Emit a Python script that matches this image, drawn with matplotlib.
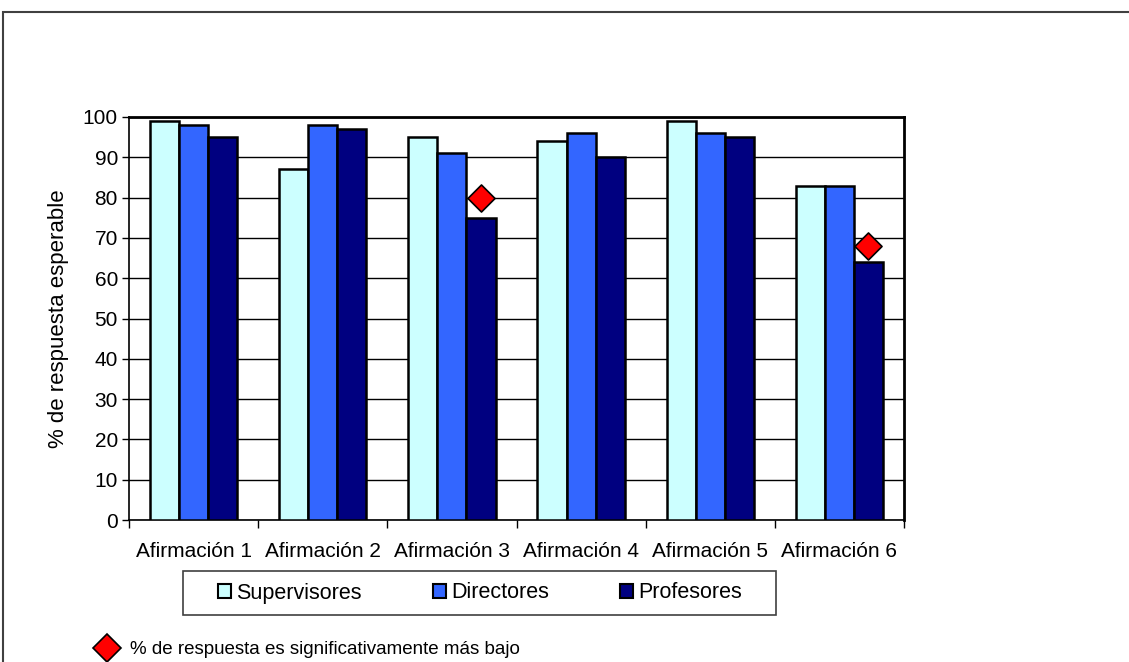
import matplotlib.pyplot as plt
import numpy as np
from matplotlib.patches import Rectangle
from matplotlib.lines import Line2D

plt.rcParams['font.family'] = ['Liberation Sans', 'DejaVu Sans']

categories = ['Afirmación 1', 'Afirmación 2', 'Afirmación 3',
              'Afirmación 4', 'Afirmación 5', 'Afirmación 6']
supervisores = [99, 87, 95, 94, 99, 83]
directores = [98, 98, 91, 96, 96, 83]
profesores = [95, 97, 75, 90, 95, 64]
# red diamonds over the groups where the teachers' share is lower
marca_idx = [2, 5]
marca_val = [80, 68]

series = [('Supervisores', supervisores, '#CCFFFF'),
          ('Directores', directores, '#3366FF'),
          ('Profesores', profesores, '#000080')]

W, H = 1129, 662
fig = plt.figure(figsize=(W / 100, H / 100), dpi=100)


def px_box(x0, y0, x1, y1, **kw):
    # rectangle given in pixel coords from the top-left corner
    return Rectangle((x0 / W, 1 - y1 / H), (x1 - x0) / W, (y1 - y0) / H,
                     transform=fig.transFigure, fill=False, **kw)


# outer frame of the chart object
fig.patches.append(px_box(3, 12, W + 20, H + 20, edgecolor='#404040', linewidth=1.5))

ax = fig.add_axes([129 / W, 1 - 520 / H, 775 / W, 403 / H])
x = np.arange(len(categories))
w = 0.225
for i, (name, vals, col) in enumerate(series):
    ax.bar(x + (i - 1) * w, vals, w, color=col, edgecolor='black',
           linewidth=1.8, label=name, zorder=3)

ax.scatter([x[i] + w for i in marca_idx], marca_val, marker='D', s=190,
           color='#FF0000', edgecolor='black', linewidth=1.2, zorder=4)

ax.set_xlim(-0.5, len(categories) - 0.5)
ax.set_ylim(0, 100)
ax.set_yticks(range(0, 101, 10))
ax.yaxis.grid(True, color='black', linewidth=1, zorder=0)
ax.set_xticks(x)
ax.set_xticklabels(categories, fontsize=15)
ax.tick_params(axis='x', length=0, pad=16)
ax.tick_params(axis='y', labelsize=15, length=5, width=1, direction='out', pad=3)
ax.set_xticks(np.arange(-0.5, len(categories)), minor=True)
ax.tick_params(axis='x', which='minor', length=6, width=1, direction='out')
for s in ax.spines.values():
    s.set_linewidth(1.2)
ax.spines['top'].set_linewidth(2)
ax.spines['right'].set_linewidth(2)
ax.set_ylabel('% de respuesta esperable', fontsize=16, labelpad=10)

# legend box
fig.patches.append(px_box(183, 571, 776, 615, edgecolor='#404040', linewidth=1.2))
handles = [Rectangle((0, 0), 1, 1, facecolor=c, edgecolor='black', linewidth=1.5)
           for _, _, c in series]
fig.legend(handles, [s[0] for s in series], loc='center',
           bbox_to_anchor=(480 / W, 1 - 593 / H), ncol=3,
           fontsize=15.5, frameon=False,
           handlelength=0.6, handleheight=0.6, handletextpad=0.25,
           columnspacing=3.3, borderpad=0.2)

fig.add_artist(Line2D([107 / W], [1 - 648 / H], marker='D', markersize=14,
                      color='#FF0000', markeredgecolor='black',
                      markeredgewidth=1.2, transform=fig.transFigure))
fig.text(130 / W, 1 - 650 / H, '% de respuesta es significativamente más bajo',
         fontsize=13.5, va='center', ha='left')

fig.savefig('out.png', dpi=100)
